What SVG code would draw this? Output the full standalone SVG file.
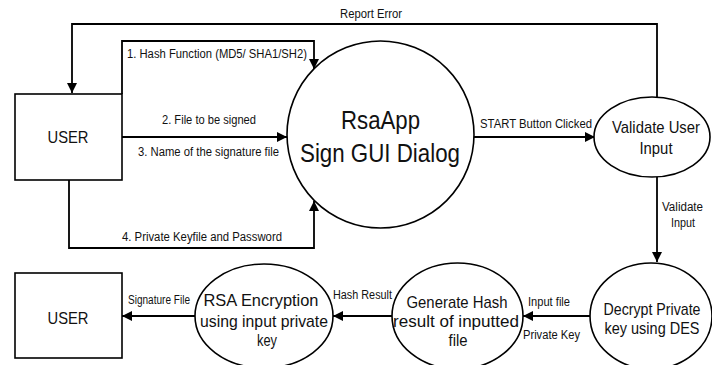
<svg xmlns="http://www.w3.org/2000/svg" width="712" height="365" viewBox="0 0 712 365">
<style>
  .node { fill: #fff; stroke: #000; stroke-width: 1.6; }
  .conn { fill: none; stroke: #000; stroke-width: 1.8; }
  .nt { font-family: "Liberation Sans", Arial, sans-serif; font-size: 17px; fill: #111; text-anchor: middle; }
  .big { font-family: "Liberation Sans", Arial, sans-serif; font-size: 25px; fill: #111; text-anchor: middle; }
  .lb { font-family: "Liberation Sans", Arial, sans-serif; font-size: 12px; fill: #111; }
</style>
<defs>
  <marker id="arr" viewBox="0 0 10 10" refX="10" refY="5" markerWidth="10" markerHeight="10" markerUnits="userSpaceOnUse" orient="auto">
    <path d="M0,0 L10,5 L0,10 z" fill="#000"/>
  </marker>
</defs>
<rect width="712" height="365" fill="#fff"/>

<g id="connectors">
  <path class="conn" d="M657,97 V24 H72 V93" marker-end="url(#arr)"/>
  <path class="conn" d="M122,94 V41 H314 V69" marker-end="url(#arr)"/>
  <path class="conn" d="M122,137 H287" marker-end="url(#arr)"/>
  <path class="conn" d="M69,180 V248 H314 V201" marker-end="url(#arr)"/>
  <path class="conn" d="M474,137 H595" marker-end="url(#arr)"/>
  <path class="conn" d="M657,177 V262" marker-end="url(#arr)"/>
  <path class="conn" d="M590,316 H523" marker-end="url(#arr)"/>
  <path class="conn" d="M392,316 H333" marker-end="url(#arr)"/>
  <path class="conn" d="M195,316 H122" marker-end="url(#arr)"/>

  <text class="lb" x="340" y="18" textLength="62" lengthAdjust="spacingAndGlyphs">Report Error</text>
  <text class="lb" x="127" y="58" textLength="180" lengthAdjust="spacingAndGlyphs">1. Hash Function (MD5/ SHA1/SH2)</text>
  <text class="lb" x="162" y="124" textLength="94" lengthAdjust="spacingAndGlyphs">2. File to be signed</text>
  <text class="lb" x="138" y="156" textLength="141" lengthAdjust="spacingAndGlyphs">3. Name of the signature file</text>
  <text class="lb" x="122" y="241" textLength="160" lengthAdjust="spacingAndGlyphs">4. Private Keyfile and Password</text>
  <text class="lb" x="480" y="128" textLength="112" lengthAdjust="spacingAndGlyphs">START Button Clicked</text>
  <text class="lb" x="662" y="211" textLength="41" lengthAdjust="spacingAndGlyphs">Validate</text>
  <text class="lb" x="671" y="227" textLength="24" lengthAdjust="spacingAndGlyphs">Input</text>
  <text class="lb" x="528" y="306" textLength="42" lengthAdjust="spacingAndGlyphs">Input file</text>
  <text class="lb" x="523" y="339" textLength="57" lengthAdjust="spacingAndGlyphs">Private Key</text>
  <text class="lb" x="333" y="299" textLength="59" lengthAdjust="spacingAndGlyphs">Hash Result</text>
  <text class="lb" x="128" y="304" textLength="62" lengthAdjust="spacingAndGlyphs">Signature File</text>
</g>

<g id="user-top">
  <rect class="node" x="15" y="94" width="107" height="86"/>
  <text class="nt" x="68" y="143" textLength="41" lengthAdjust="spacingAndGlyphs">USER</text>
</g>

<g id="rsaapp">
  <circle class="node" cx="380.5" cy="134.5" r="93.5"/>
  <text class="big" x="380.5" y="129" textLength="79" lengthAdjust="spacingAndGlyphs">RsaApp</text>
  <text class="big" x="380" y="162" textLength="160" lengthAdjust="spacingAndGlyphs">Sign GUI Dialog</text>
</g>

<g id="validate">
  <ellipse class="node" cx="652" cy="137" rx="58" ry="40"/>
  <text class="nt" x="656" y="133" textLength="88" lengthAdjust="spacingAndGlyphs">Validate User</text>
  <text class="nt" x="656" y="154" textLength="33" lengthAdjust="spacingAndGlyphs">Input</text>
</g>

<g id="decrypt">
  <ellipse class="node" cx="651" cy="316" rx="61" ry="53"/>
  <text class="nt" x="652" y="315" textLength="97" lengthAdjust="spacingAndGlyphs">Decrypt Private</text>
  <text class="nt" x="652" y="334" textLength="95" lengthAdjust="spacingAndGlyphs">key using DES</text>
</g>

<g id="genhash">
  <ellipse class="node" cx="457.5" cy="316" rx="65.5" ry="53"/>
  <text class="nt" x="457" y="308" textLength="101" lengthAdjust="spacingAndGlyphs">Generate Hash</text>
  <text class="nt" x="456" y="327" textLength="126" lengthAdjust="spacingAndGlyphs">result of inputted</text>
  <text class="nt" x="458" y="346" textLength="19" lengthAdjust="spacingAndGlyphs">file</text>
</g>

<g id="rsaenc">
  <ellipse class="node" cx="264" cy="316" rx="69" ry="52"/>
  <text class="nt" x="261" y="306" textLength="115" lengthAdjust="spacingAndGlyphs">RSA Encryption</text>
  <text class="nt" x="264" y="327" textLength="128" lengthAdjust="spacingAndGlyphs">using input private</text>
  <text class="nt" x="267" y="346" textLength="20" lengthAdjust="spacingAndGlyphs">key</text>
</g>

<g id="user-bottom">
  <rect class="node" x="15" y="273" width="107" height="85"/>
  <text class="nt" x="68" y="324" textLength="41" lengthAdjust="spacingAndGlyphs">USER</text>
</g>
</svg>
